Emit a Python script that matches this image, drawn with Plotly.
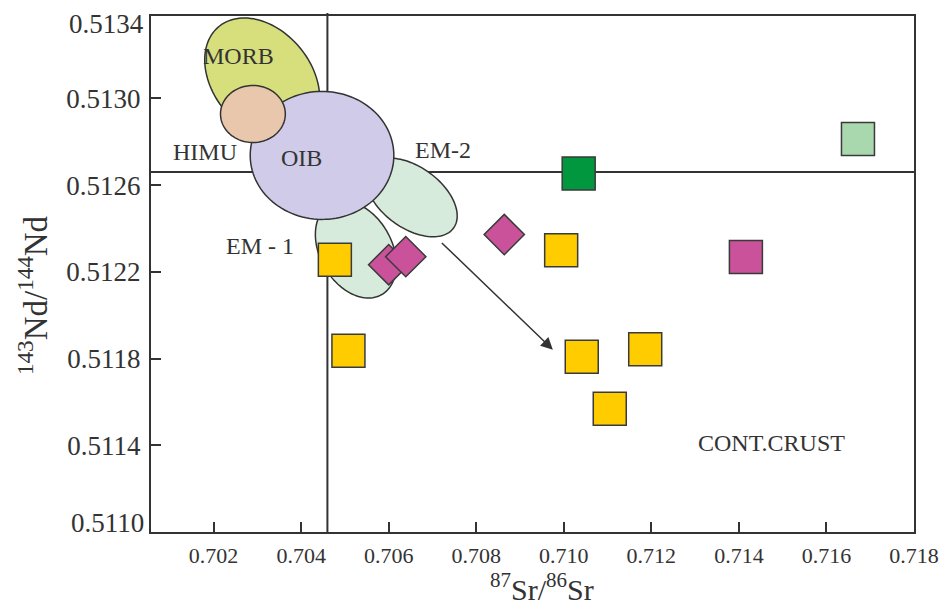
import numpy as np
import plotly.graph_objects as go

# ---------------- data ----------------
yellow_x = [0.70477, 0.70508, 0.70994, 0.71041, 0.71186, 0.71105]
yellow_y = [0.512256, 0.511836, 0.512300, 0.511808, 0.511843, 0.511568]
magenta_dia_x = [0.70600, 0.70639, 0.70864]
magenta_dia_y = [0.512233, 0.512270, 0.512372]
magenta_sq_x = [0.71416]
magenta_sq_y = [0.512268]
dkgreen_x = [0.71034]
dkgreen_y = [0.512654]
ltgreen_x = [0.71672]
ltgreen_y = [0.512813]

x_tickvals = [0.702, 0.704, 0.706, 0.708, 0.710, 0.712, 0.714, 0.716, 0.718]
x_ticktext = ["0.702", "0.704", "0.706", "0.708", "0.710", "0.712", "0.714", "0.716", "0.718"]
y_tickvals = [0.5114, 0.5118, 0.5122, 0.5126, 0.5130]
y_ticktext = ["0.5114", "0.5118", "0.5122", "0.5126", "0.5130"]
y_edge_labels = ["0.5110", "0.5134"]

# reference lines
sr_div = 0.7046
nd_div = 0.51266

# mantle end-member fields: (name, cx, cy, semi-axis a px, semi-axis b px, angle deg, fill)
fields = [
    ("EM-1", 0.70525, 0.512303, 52, 36, 60, "#d6ebdb"),
    ("EM-2", 0.706523, 0.512543, 52, 30.5, 36, "#d6ebdb"),
    ("MORB", 0.703110, 0.513090, 68, 49, 50, "#d6df7c"),
    ("OIB", 0.704477, 0.512737, 72, 64, 0, "#cfcbe8"),
    ("HIMU", 0.702898, 0.512928, 32.5, 28.5, 0, "#e9c7ad"),
]

labels = [
    ("MORB", 0.702568, 0.513194),
    ("HIMU", 0.701795, 0.512751),
    ("OIB", 0.704000, 0.512727),
    ("EM-2", 0.707250, 0.512760),
    ("EM - 1", 0.703068, 0.512321),
    ("CONT.CRUST", 0.714750, 0.511411),
]

arrow_start = (0.70718, 0.512340)
arrow_end = (0.70975, 0.511841)

# ---------------- layout geometry ----------------
W, H = 951, 609
ML, MR, MT, MB = 151, 35, 16, 77
xr = [0.70057, 0.718]
yr = [0.5110, 0.51338]
pw = W - ML - MR
ph = H - MT - MB
kx = pw / (xr[1] - xr[0])
ky = ph / (yr[1] - yr[0])

FONT = "Liberation Serif"
DARK = "#333333"

fig = go.Figure()

shapes = []
# divider lines (below fields)
shapes.append(dict(type="line", xref="x", yref="paper", x0=sr_div, x1=sr_div, y0=0, y1=1.006,
                   line=dict(color=DARK, width=2), layer="below"))
shapes.append(dict(type="line", xref="paper", yref="y", x0=0, x1=1, y0=nd_div, y1=nd_div,
                   line=dict(color=DARK, width=2), layer="below"))

t = np.linspace(0, 2 * np.pi, 120)
for name, cx, cy, a, b, ang, col in fields:
    th = np.radians(ang)
    px = a * np.cos(t) * np.cos(th) - b * np.sin(t) * np.sin(th)
    py = a * np.cos(t) * np.sin(th) + b * np.sin(t) * np.cos(th)
    xs = cx + px / kx
    ys = cy - py / ky
    path = "M " + " L ".join(f"{x:.7f},{y:.7f}" for x, y in zip(xs, ys)) + " Z"
    shapes.append(dict(type="path", xref="x", yref="y", path=path, fillcolor=col,
                       line=dict(color=DARK, width=1.5), layer="below"))

mk_line = dict(color="#3a3a3a", width=1.5)
fig.add_trace(go.Scatter(x=yellow_x, y=yellow_y, mode="markers",
                         marker=dict(symbol="square", size=33, color="#ffcc00", line=mk_line)))
fig.add_trace(go.Scatter(x=magenta_dia_x, y=magenta_dia_y, mode="markers",
                         marker=dict(symbol="diamond", size=31, color="#c9529b", line=mk_line)))
fig.add_trace(go.Scatter(x=magenta_sq_x, y=magenta_sq_y, mode="markers",
                         marker=dict(symbol="square", size=33, color="#c9529b", line=mk_line)))
fig.add_trace(go.Scatter(x=dkgreen_x, y=dkgreen_y, mode="markers",
                         marker=dict(symbol="square", size=33, color="#00973f", line=mk_line)))
fig.add_trace(go.Scatter(x=ltgreen_x, y=ltgreen_y, mode="markers",
                         marker=dict(symbol="square", size=33, color="#a9d8ae", line=mk_line)))

annotations = []
for txt, x, y in labels:
    annotations.append(dict(x=x, y=y, xref="x", yref="y", text=txt, showarrow=False,
                            font=dict(family=FONT, size=24, color=DARK),
                            xanchor="center", yanchor="middle"))

annotations.append(dict(x=arrow_end[0], y=arrow_end[1], ax=arrow_start[0], ay=arrow_start[1],
                        xref="x", yref="y", axref="x", ayref="y", text="", showarrow=True,
                        arrowhead=2, arrowsize=1.6, arrowwidth=1.5, arrowcolor=DARK))

# edge tick labels of the y axis
annotations.append(dict(x=0, y=yr[0], xref="paper", yref="y", text=y_edge_labels[0], showarrow=False,
                        xanchor="right", yanchor="middle", xshift=-5, yshift=9,
                        font=dict(family=FONT, size=27, color=DARK)))
annotations.append(dict(x=0, y=yr[1], xref="paper", yref="y", text=y_edge_labels[1], showarrow=False,
                        xanchor="right", yanchor="middle", xshift=-5, yshift=-8,
                        font=dict(family=FONT, size=27, color=DARK)))

# axis titles
annotations.append(dict(x=0, y=(H - MB - 295) / ph, xref="paper", yref="paper",
                        text="<sup>143</sup>Nd/<sup>144</sup>Nd", showarrow=False, textangle=-90,
                        xanchor="center", yanchor="middle", xshift=33 - ML,
                        font=dict(family=FONT, size=33, color=DARK)))
annotations.append(dict(x=(543 - ML) / pw, y=0, xref="paper", yref="paper",
                        text="<sup>87</sup>Sr/<sup>86</sup>Sr", showarrow=False,
                        xanchor="center", yanchor="bottom", yshift=-(H - (H - MB)) + 1,
                        font=dict(family=FONT, size=30, color=DARK)))

fig.update_layout(
    width=W, height=H,
    margin=dict(l=ML, r=MR, t=MT, b=MB),
    paper_bgcolor="white", plot_bgcolor="white",
    showlegend=False,
    shapes=shapes,
    annotations=annotations,
    xaxis=dict(range=xr, tickvals=x_tickvals, ticktext=x_ticktext, ticks="inside", ticklen=10,
               tickwidth=2, tickcolor=DARK, showgrid=False, zeroline=False, showline=True,
               mirror=True, linecolor=DARK, linewidth=2, ticklabelstandoff=3,
               tickfont=dict(family=FONT, size=22, color=DARK)),
    yaxis=dict(range=yr, tickvals=y_tickvals, ticktext=y_ticktext, ticks="inside", ticklen=10,
               tickwidth=2, tickcolor=DARK, showgrid=False, zeroline=False, showline=True,
               mirror=True, linecolor=DARK, linewidth=2, ticklabelstandoff=3,
               tickfont=dict(family=FONT, size=27, color=DARK)),
)

fig.write_html("out.html")
